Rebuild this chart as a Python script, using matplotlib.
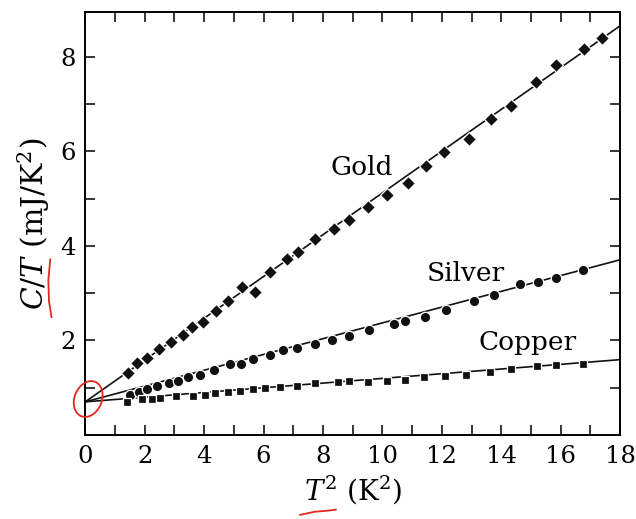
import numpy as np
import matplotlib
matplotlib.use("Agg")
import matplotlib.pyplot as plt
from matplotlib.patches import Ellipse
from matplotlib.lines import Line2D

plt.rcParams['font.family'] = ['DejaVu Serif']
plt.rcParams['mathtext.fontset'] = 'dejavuserif'

# data: T^2 (K^2) and C/T (mJ/K^2)
gold_x = [1.45, 1.73, 2.09, 2.49, 2.90, 3.30, 3.61, 3.97, 4.41, 4.80, 5.29, 5.70,
          6.22, 6.79, 7.17, 7.74, 8.36, 8.87, 9.53, 10.17, 10.86, 11.48, 12.08,
          12.91, 13.67, 14.34, 15.16, 15.83, 16.77, 17.38]
gold_y = [1.32, 1.53, 1.62, 1.81, 1.96, 2.11, 2.29, 2.39, 2.62, 2.83, 3.12, 3.02,
          3.45, 3.73, 3.87, 4.14, 4.35, 4.54, 4.82, 5.08, 5.34, 5.68, 5.98,
          6.26, 6.68, 6.95, 7.47, 7.83, 8.16, 8.39]

silver_x = [1.51, 1.81, 2.09, 2.40, 2.83, 3.13, 3.46, 3.86, 4.32, 4.86, 5.23, 5.64,
            6.22, 6.65, 7.13, 7.74, 8.32, 8.86, 9.55, 10.39, 10.76, 11.45, 12.15,
            13.07, 13.74, 14.64, 15.23, 15.83, 16.74]
silver_y = [0.85, 0.91, 0.97, 1.04, 1.10, 1.15, 1.22, 1.27, 1.38, 1.50, 1.51, 1.60,
            1.70, 1.79, 1.83, 1.93, 2.00, 2.10, 2.22, 2.34, 2.42, 2.50, 2.64,
            2.83, 2.96, 3.20, 3.23, 3.33, 3.49]

copper_x = [1.40, 1.90, 2.24, 2.51, 3.07, 3.63, 4.02, 4.36, 4.80, 5.20, 5.64, 6.06,
            6.57, 7.12, 7.74, 8.49, 8.87, 9.50, 10.15, 10.76, 11.40, 12.10, 12.80,
            13.63, 14.34, 15.20, 15.83, 16.74]
copper_y = [0.70, 0.75, 0.77, 0.79, 0.82, 0.83, 0.85, 0.88, 0.90, 0.93, 0.97, 0.99,
            1.01, 1.04, 1.10, 1.13, 1.14, 1.12, 1.15, 1.17, 1.22, 1.25, 1.27,
            1.34, 1.39, 1.45, 1.48, 1.50]

# fitted straight lines  C/T = gamma + A T^2
intercept = 0.70
gold_slope = 0.442
silver_slope = 0.167
copper_slope = 0.0496

fig = plt.figure(figsize=(6.36, 5.19), dpi=100)
ax = fig.add_axes([0.134, 0.162, 0.841, 0.815])

xfit = np.array([0.0, 18.0])
ink = '#111111'
for xs, ys, slope, mk, ms in [(gold_x, gold_y, gold_slope, 'D', 7.0),
                              (silver_x, silver_y, silver_slope, 'o', 7.5),
                              (copper_x, copper_y, copper_slope, 's', 6.2)]:
    ax.plot(xfit, intercept + slope*xfit, color=ink, lw=1.2, zorder=2)
    ax.plot(xs, ys, linestyle='none', marker=mk, ms=ms, color=ink,
            mec='white', mew=0.9, zorder=3)

ax.text(9.3, 5.65, 'Gold', fontsize=19, ha='center', va='center')
ax.text(12.8, 3.42, 'Silver', fontsize=19, ha='center', va='center')
ax.text(14.9, 1.96, 'Copper', fontsize=19, ha='center', va='center')

ax.set_xlim(0, 18)
ax.set_ylim(0, 8.95)
ax.set_xticks(np.arange(0, 19, 2))
ax.set_xticks(np.arange(0, 19, 1), minor=True)
ax.set_yticks([2, 4, 6, 8])
ax.set_yticks(np.arange(1, 9, 1), minor=True)
ax.tick_params(which='both', direction='in', top=True, right=True,
               length=7, width=1.1, labelsize=17.5, pad=7)
for s in ax.spines.values():
    s.set_linewidth(1.4)

ax.set_xlabel(r'$T^2$ (K$^2$)', fontsize=20, labelpad=4)
ax.set_ylabel(r'$C/T$ (mJ/K$^2$)', fontsize=21.5, labelpad=6)

# red pen marks on the scanned page
ax.add_patch(Ellipse((0.1, 0.76), 1.0, 0.72, angle=20, fill=False,
                     edgecolor='#e0281e', lw=1.3, clip_on=False, zorder=5))
fig.add_artist(Line2D([0.079, 0.076, 0.077, 0.081], [0.500, 0.460, 0.420, 0.389],
                      transform=fig.transFigure, color='#e0281e', lw=1.3))
fig.add_artist(Line2D([0.472, 0.495, 0.515, 0.528], [0.008, 0.014, 0.016, 0.018],
                      transform=fig.transFigure, color='#e0281e', lw=1.3))

fig.savefig('out.png', dpi=100)
